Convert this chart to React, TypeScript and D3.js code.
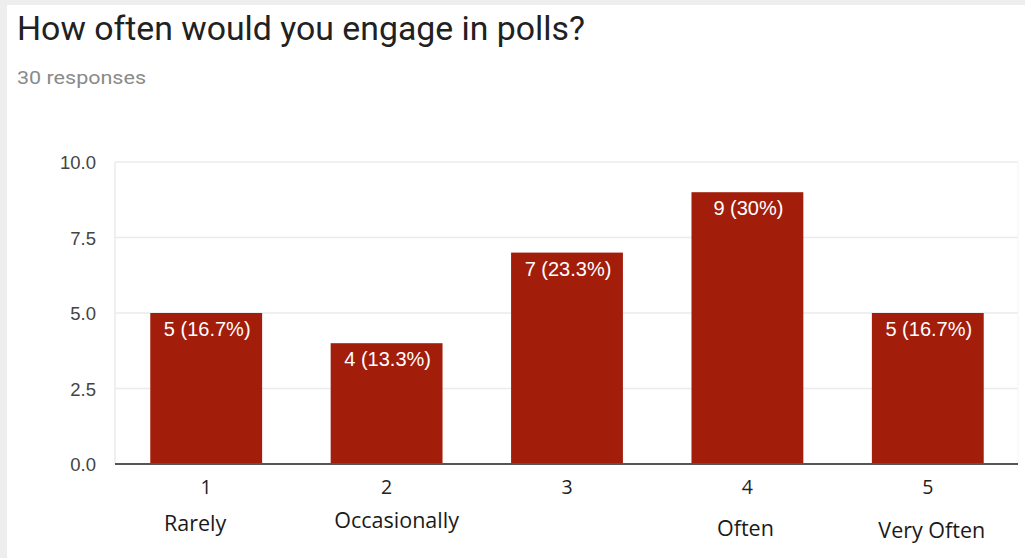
import React from "react";
import * as d3 from "d3";

const categories = ["1", "2", "3", "4", "5"];
const counts = [5, 4, 7, 9, 5];
const percentLabels = ["16.7%", "13.3%", "23.3%", "30%", "16.7%"];
const scaleLabels = ["Rarely", "Occasionally", "", "Often", "Very Often"];
const yTicks = [0, 2.5, 5, 7.5, 10];

const W = 1025;
const H = 558;
const plot = { left: 115, right: 1018, top: 162, bottom: 464 };
// hand-placed label nudges (layout only)
const labelNudge = [
  { dx: -11, y: 531 },
  { dx: 10, y: 528 },
  { dx: 0, y: 531 },
  { dx: -2, y: 536 },
  { dx: 4, y: 538 },
];

export default function App() {
  const x = d3
    .scaleBand<string>()
    .domain(categories)
    .range([plot.left + 1, plot.right])
    .paddingInner(0.38)
    .paddingOuter(0.19);
  const y = d3.scaleLinear().domain([0, 10]).range([plot.bottom, plot.top]);

  return (
    <svg
      width={W}
      height={H}
      style={{ position: "absolute", left: 0, top: 0, display: "block" }}
    >
      <rect x={0} y={0} width={W} height={H} fill="#eeeeee" />
      <rect x={7} y={5} width={W - 7} height={H - 5} fill="#ffffff" />
      <text
        x={17}
        y={39.5}
        fontFamily="Roboto"
        fontSize={33}
        fill="#212121"
        textLength={568}
        lengthAdjust="spacingAndGlyphs"
      >
        How often would you engage in polls?
      </text>
      <text
        x={17}
        y={83.5}
        fontFamily="Roboto"
        fontSize={19}
        fill="#8a8a8a"
        textLength={129}
        lengthAdjust="spacingAndGlyphs"
      >
        30 responses
      </text>

      {/* grid */}
      {yTicks.map((t) => (
        <line
          key={t}
          x1={plot.left}
          x2={plot.right}
          y1={y(t)}
          y2={y(t)}
          stroke="#ebebeb"
          strokeWidth={1.5}
        />
      ))}
      <line
        x1={plot.left}
        x2={plot.left}
        y1={plot.top}
        y2={plot.bottom}
        stroke="#ebebeb"
        strokeWidth={1.5}
      />
      <line
        x1={plot.right}
        x2={plot.right}
        y1={plot.top}
        y2={plot.bottom}
        stroke="#f4f4f4"
        strokeWidth={1}
      />
      {yTicks.map((t) => (
        <text
          key={"yl" + t}
          x={96}
          y={y(t) + 7}
          textAnchor="end"
          fontFamily="Liberation Sans, Arial"
          fontSize={18.5}
          fill="#444444"
        >
          {t.toFixed(1)}
        </text>
      ))}

      {/* bars */}
      {categories.map((c, i) => (
        <g key={c}>
          <rect
            x={x(c)}
            y={y(counts[i])}
            width={x.bandwidth()}
            height={y(0) - y(counts[i])}
            fill="#a31d0b"
          />
          <text
            x={(x(c) as number) + x.bandwidth() / 2 + 1}
            y={y(counts[i]) + 23}
            textAnchor="middle"
            fontFamily="Liberation Sans, Arial"
            fontSize={20}
            fill="#ffffff"
          >
            {`${counts[i]} (${percentLabels[i]})`}
          </text>
        </g>
      ))}

      <line
        x1={plot.left}
        x2={plot.right}
        y1={plot.bottom}
        y2={plot.bottom}
        stroke="#555555"
        strokeWidth={2}
      />

      {categories.map((c, i) => {
        const cx = (x(c) as number) + x.bandwidth() / 2;
        return (
          <g key={"xl" + c}>
            <text
              x={cx}
              y={494}
              textAnchor="middle"
              fontFamily="Open Sans"
              fontSize={19.5}
              fill="#222222"
            >
              {c}
            </text>
            {scaleLabels[i] && (
              <text
                x={cx + labelNudge[i].dx}
                y={labelNudge[i].y}
                textAnchor="middle"
                fontFamily="Open Sans"
                fontSize={21.5}
                fill="#1a1a1a"
              >
                {scaleLabels[i]}
              </text>
            )}
          </g>
        );
      })}
    </svg>
  );
}
